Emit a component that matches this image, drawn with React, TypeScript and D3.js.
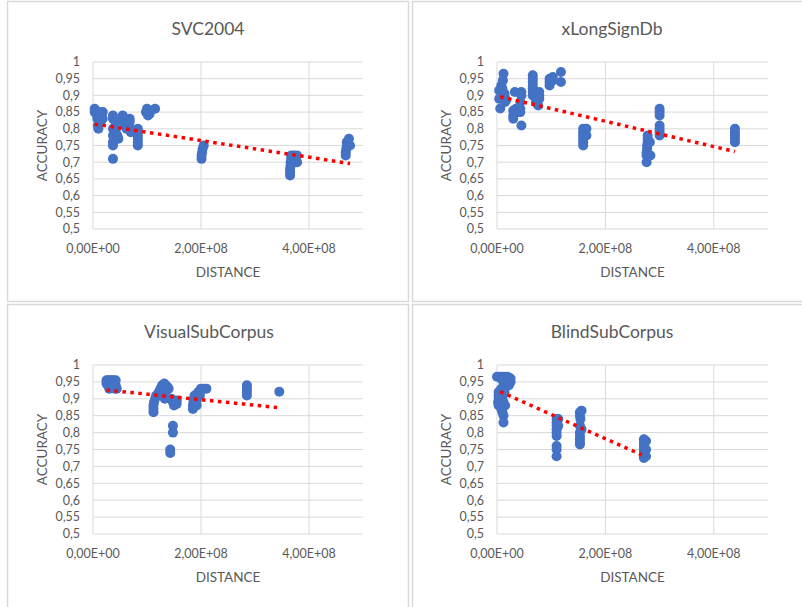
import React from "react";
import * as d3 from "d3";

// ---------- data (distance in units of 1e8, accuracy) ----------
const svcX = [0.03,0.03,0.05,0.08,0.08,0.09,0.1,0.12,0.13,0.14,0.18,0.18,
  0.37,0.37,0.37,0.37,0.37,0.37,0.37,0.42,0.42,0.42,0.45,0.47,
  0.55,0.55,0.57,0.6,0.62,0.68,0.68,0.7,0.7,
  0.83,0.83,0.83,0.83,0.83,0.83,
  0.98,1.0,1.02,1.05,1.15,
  2.01,2.01,2.02,2.03,2.05,
  3.65,3.65,3.65,3.66,3.66,3.67,3.67,3.72,3.72,3.75,3.78,3.78,
  4.68,4.68,4.69,4.7,4.7,4.74,4.76];
const svcY = [0.86,0.85,0.855,0.84,0.83,0.81,0.80,0.85,0.84,0.82,0.85,0.83,
  0.84,0.83,0.80,0.78,0.76,0.75,0.71,0.82,0.80,0.79,0.78,0.77,
  0.84,0.83,0.82,0.81,0.80,0.83,0.82,0.80,0.79,
  0.80,0.79,0.78,0.77,0.76,0.75,
  0.85,0.86,0.84,0.845,0.86,
  0.71,0.72,0.73,0.74,0.75,
  0.66,0.67,0.68,0.69,0.70,0.71,0.72,0.72,0.71,0.70,0.72,0.70,
  0.72,0.73,0.74,0.75,0.76,0.77,0.75];
const svcTrend = [[0.03, 0.814], [4.76, 0.696]];

const xlsX = [0.12,0.11,0.08,0.04,0.14,0.04,0.17,0.06,0.1,0.12,0.15,
  0.33,0.30,0.30,0.30,0.35,0.38,0.45,0.45,0.43,0.43,0.43,0.45,
  0.66,0.66,0.66,0.66,0.66,0.66,0.66,0.72,0.72,0.72,0.72,0.78,0.78,0.78,0.76,
  0.97,0.97,0.97,1.03,1.03,1.18,1.18,
  1.59,1.59,1.59,1.59,1.59,1.59,1.65,1.65,
  2.76,2.76,2.76,2.77,2.77,2.78,2.78,2.78,2.83,2.82,
  3.0,3.0,3.0,3.0,3.0,3.0,3.0,
  4.39,4.39,4.39,4.39,4.39];
const xlsY = [0.965,0.945,0.93,0.915,0.905,0.89,0.886,0.861,0.92,0.90,0.88,
  0.91,0.855,0.84,0.83,0.86,0.85,0.91,0.90,0.88,0.86,0.85,0.81,
  0.96,0.95,0.94,0.93,0.92,0.91,0.90,0.91,0.90,0.89,0.88,0.91,0.90,0.89,0.87,
  0.95,0.94,0.93,0.955,0.945,0.97,0.94,
  0.80,0.79,0.78,0.77,0.76,0.75,0.80,0.78,
  0.70,0.72,0.73,0.74,0.75,0.76,0.77,0.78,0.72,0.76,
  0.86,0.85,0.84,0.81,0.80,0.79,0.78,
  0.80,0.79,0.78,0.77,0.76];
const xlsTrend = [[0.06, 0.896], [4.39, 0.732]];

const visX = [0.25,0.25,0.28,0.28,0.32,0.32,0.35,0.35,0.38,0.38,0.42,0.42,0.44,0.3,0.4,
  1.12,1.12,1.12,1.13,1.15,1.17,
  1.22,1.25,1.28,1.32,1.35,1.38,1.30,1.33,1.36,1.40,
  1.45,1.48,1.5,1.55,1.55,
  1.43,1.43,1.48,1.48,
  1.85,1.85,1.86,1.87,1.88,1.92,1.92,
  1.95,2.0,2.05,2.1,1.98,
  2.85,2.85,2.85,2.85,
  3.45];
const visY = [0.955,0.945,0.955,0.94,0.955,0.945,0.955,0.94,0.955,0.945,0.955,0.94,0.93,0.93,0.93,
  0.86,0.87,0.88,0.89,0.90,0.91,
  0.92,0.93,0.94,0.945,0.94,0.935,0.91,0.90,0.925,0.93,
  0.90,0.89,0.88,0.885,0.895,
  0.75,0.74,0.82,0.80,
  0.87,0.88,0.89,0.90,0.91,0.88,0.895,
  0.92,0.93,0.93,0.93,0.91,
  0.94,0.93,0.92,0.91,
  0.921];
const visTrend = [[0.25, 0.926], [3.43, 0.874]];

const blindX = [0.0,0.05,0.1,0.15,0.2,0.25,0.25,0.2,0.15,0.1,0.22,0.03,0.03,0.03,0.02,0.03,0.08,0.1,0.1,0.12,0.08,0.1,0.12,0.12,0.15,0.14,
  1.1,1.1,1.1,1.1,1.1,1.1,1.1,1.1,1.1,1.13,1.13,
  1.53,1.53,1.54,1.53,1.53,1.53,1.53,1.53,1.53,1.56,1.56,
  2.71,2.71,2.71,2.71,2.71,2.71,2.71,2.75,2.75,2.75];
const blindY = [0.965,0.965,0.965,0.965,0.965,0.96,0.95,0.945,0.95,0.955,0.94,0.92,0.91,0.90,0.89,0.88,0.93,0.91,0.90,0.89,0.87,0.86,0.85,0.83,0.88,0.92,
  0.84,0.83,0.82,0.81,0.80,0.79,0.76,0.75,0.73,0.84,0.82,
  0.86,0.85,0.84,0.82,0.80,0.79,0.78,0.77,0.765,0.865,0.81,
  0.78,0.77,0.76,0.75,0.74,0.73,0.725,0.775,0.75,0.73];
const blindTrend = [[0.06, 0.921], [2.67, 0.734]];

const titles = ["SVC2004", "xLongSignDb", "VisualSubCorpus", "BlindSubCorpus"];
const yTicks = [0.5,0.55,0.6,0.65,0.7,0.75,0.8,0.85,0.9,0.95,1];
const xTicks = [0, 2e8, 4e8];
const xTickLabels = ["0,00E+00", "2,00E+08", "4,00E+08"];
const xLabel = "DISTANCE";
const yLabel = "ACCURACY";

const series = [
  { xs: svcX, ys: svcY, trend: svcTrend },
  { xs: xlsX, ys: xlsY, trend: xlsTrend },
  { xs: visX, ys: visY, trend: visTrend },
  { xs: blindX, ys: blindY, trend: blindTrend },
];

// ---------- layout ----------
const panels = [
  { frame: [7.5, 1.5, 401, 300], plot: [93, 62, 363, 229], titleX: 208, titleY: 35 },
  { frame: [412.5, 1.5, 400, 300], plot: [497, 62, 768, 229], titleX: 612, titleY: 35 },
  { frame: [7.5, 304.5, 401, 320], plot: [93, 365, 363, 534], titleX: 209, titleY: 338 },
  { frame: [412.5, 304.5, 400, 320], plot: [497, 365, 768, 534], titleX: 612, titleY: 338 },
];

const FONT = "Lato, 'Open Sans', sans-serif";
const TXT = "#595959";
const GRID = "#D9D9D9";

function fmtY(v: number) {
  return d3.format("")(+v.toFixed(2)).replace(".", ",");
}

function Panel({ i }: { i: number }) {
  const p = panels[i];
  const s = series[i];
  const [l, t, r, b] = p.plot;
  const x = d3.scaleLinear().domain([0, 5e8]).range([l, r]);
  const y = d3.scaleLinear().domain([0.5, 1]).range([b, t]);
  const [fx, fy, fw, fh] = p.frame;
  const line = d3.line<number[]>().x((d) => x(d[0] * 1e8)).y((d) => y(d[1]));
  return (
    <g>
      <rect x={fx} y={fy} width={fw} height={fh} fill="#fff" stroke={GRID} strokeWidth={1.5} />
      <text x={p.titleX} y={p.titleY} textAnchor="middle" fontSize={17.5} fill={TXT} fontFamily={FONT}>
        {titles[i]}
      </text>
      {yTicks.map((v) => (
        <g key={"y" + v}>
          <line x1={l} x2={r} y1={y(v)} y2={y(v)} stroke={GRID} strokeWidth={1} />
          <text x={l - 13} y={y(v) + 4.3} textAnchor="end" fontSize={12.5} fill={TXT} fontFamily={FONT}>
            {fmtY(v)}
          </text>
        </g>
      ))}
      {xTicks.map((v, k) => (
        <g key={"x" + v}>
          <line x1={x(v)} x2={x(v)} y1={t} y2={b} stroke={GRID} strokeWidth={1} />
          <text x={x(v)} y={b + 24} textAnchor="middle" fontSize={12.5} fill={TXT} fontFamily={FONT}>
            {xTickLabels[k]}
          </text>
        </g>
      ))}
      <text x={(l + r) / 2} y={b + 48} textAnchor="middle" fontSize={13.5} fill={TXT} fontFamily={FONT}>
        {xLabel}
      </text>
      <text
        transform={`translate(${l - 46},${(t + b) / 2}) rotate(-90)`}
        textAnchor="middle"
        fontSize={13.5}
        fill={TXT}
        fontFamily={FONT}
      >
        {yLabel}
      </text>
      {s.xs.map((xv, k) => (
        <circle key={k} cx={x(xv * 1e8)} cy={y(s.ys[k])} r={5} fill="#4472C4" />
      ))}
      <path d={line(s.trend) || ""} fill="none" stroke="#FF0000" strokeWidth={3.5} strokeDasharray="3.5 4.5" />
    </g>
  );
}

export default function App() {
  return (
    <svg
      width={802}
      height={607}
      style={{ position: "absolute", left: 0, top: 0, background: "#fff" }}
    >
      <rect x={0} y={0} width={802} height={607} fill="#fff" />
      {[0, 1, 2, 3].map((i) => (
        <Panel key={i} i={i} />
      ))}
    </svg>
  );
}
